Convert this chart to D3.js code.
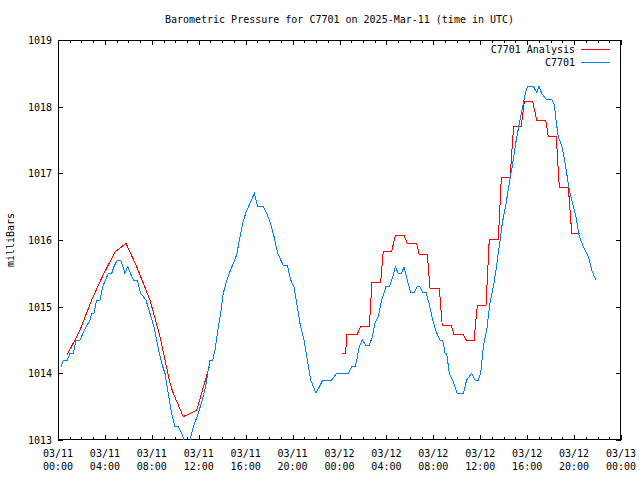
<!DOCTYPE html>
<html><head><meta charset="utf-8">
<script src="https://cdn.jsdelivr.net/npm/d3@7"></script>
<style>
html,body{margin:0;padding:0;background:#fff;}
svg text{font-family:"DejaVu Sans Mono",monospace;font-size:10px;fill:#000;}
</style></head>
<body><svg id="c" width="640" height="480"></svg>
<script>
// ---- data ----
const title = "Barometric Pressure for C7701 on 2025-Mar-11 (time in UTC)";
const yLabel = "milliBars";
const seriesNames = ["C7701 Analysis", "C7701"];
const seriesColors = ["#ff0000", "#0080ff"];
const yTicks = [1013, 1014, 1015, 1016, 1017, 1018, 1019];
const xTickHours = [0, 4, 8, 12, 16, 20, 24, 28, 32, 36, 40, 44, 48];
const xTickDates = ["03/11","03/11","03/11","03/11","03/11","03/11","03/12","03/12","03/12","03/12","03/12","03/12","03/13"];
const xTickTimes = ["00:00","04:00","08:00","12:00","16:00","20:00","00:00","04:00","08:00","12:00","16:00","20:00","00:00"];

// observed series: hours since 03/11 00:00 UTC, pressure (mb)
const obsHours = [0.26,0.45,0.79,1.02,1.30,1.53,1.88,2.39,2.73,2.87,3.07,3.30,3.58,3.81,4.29,4.58,4.77,5.06,5.35,5.71,5.94,6.42,6.76,7.05,7.50,7.84,8.18,8.41,8.64,8.93,9.12,9.40,9.69,9.98,10.26,10.55,10.74,11.0,11.25,11.54,11.96,12.30,12.59,12.76,12.96,13.19,13.39,13.67,13.87,14.09,14.32,14.60,14.95,15.24,15.46,15.75,16.03,16.37,16.74,17.03,17.50,17.79,18.13,18.42,18.73,19.21,19.55,19.84,20.12,20.40,20.63,20.97,21.26,21.54,22.00,22.57,23.34,23.76,24.75,25.04,25.32,25.47,25.69,25.94,26.26,26.54,26.80,27.03,27.31,27.60,27.96,28.25,28.54,28.76,29.01,29.30,29.50,29.78,30.07,30.35,30.63,30.86,31.09,31.38,31.63,31.95,32.23,32.57,32.80,33.00,33.14,33.36,33.65,34.04,34.56,34.84,35.27,35.55,35.83,36.04,36.26,36.55,36.83,37.17,37.34,37.62,37.88,38.20,38.48,38.77,39.02,39.33,39.62,39.87,40.05,40.52,40.81,41.01,41.24,41.61,42.09,42.31,42.46,42.65,42.94,43.14,43.37,43.59,43.88,44.16,44.45,44.79,45.22,45.50,45.84];
const obsValues = [1014.10,1014.2,1014.2,1014.3,1014.3,1014.5,1014.5,1014.7,1014.8,1014.9,1014.9,1015.1,1015.1,1015.3,1015.5,1015.5,1015.6,1015.7,1015.7,1015.5,1015.6,1015.4,1015.4,1015.2,1015.1,1014.9,1014.7,1014.5,1014.3,1014.1,1014.0,1013.7,1013.4,1013.2,1013.2,1013.1,1013.0,1012.9,1013.0,1013.2,1013.4,1013.6,1013.8,1014.0,1014.2,1014.2,1014.35,1014.7,1014.9,1015.2,1015.35,1015.5,1015.65,1015.78,1016.0,1016.25,1016.42,1016.55,1016.7,1016.5,1016.5,1016.4,1016.25,1016.05,1015.8,1015.62,1015.62,1015.4,1015.3,1015.0,1014.75,1014.5,1014.2,1013.9,1013.7,1013.9,1013.9,1014.0,1014.0,1014.1,1014.1,1014.2,1014.4,1014.5,1014.42,1014.42,1014.55,1014.75,1014.85,1015.1,1015.3,1015.3,1015.45,1015.6,1015.5,1015.5,1015.6,1015.4,1015.21,1015.21,1015.3,1015.3,1015.21,1015.21,1015.05,1014.8,1014.63,1014.5,1014.5,1014.3,1014.3,1014.0,1013.9,1013.7,1013.7,1013.9,1014.0,1013.9,1013.9,1014.0,1014.4,1014.65,1015.05,1015.35,1015.55,1015.9,1016.25,1016.55,1016.85,1017.15,1017.45,1017.75,1018.0,1018.22,1018.31,1018.31,1018.21,1018.31,1018.2,1018.11,1018.11,1018.03,1017.8,1017.55,1017.42,1017.25,1017.0,1016.75,1016.55,1016.35,1016.05,1015.9,1015.75,1015.55,1015.4];

// analysis series, two separate runs
const anaHours1 = [0.79,1.88,2.87,3.86,4.86,5.80,6.71,7.84,8.70,9.55,9.83,10.68,11.83,12.90];
const anaValues1 = [1014.28,1014.65,1015.1,1015.48,1015.82,1015.95,1015.6,1015.1,1014.55,1013.85,1013.7,1013.35,1013.45,1014.1];
const anaHours2 = [24.24,24.53,24.61,25.52,25.81,26.54,26.77,27.51,27.73,28.45,28.76,29.50,29.78,30.58,30.80,31.49,31.72,32.51,32.76,33.53,33.76,34.56,34.84,35.47,35.75,36.49,36.77,37.54,37.80,38.54,38.85,39.50,39.76,40.47,40.81,41.58,41.80,42.48,42.74,43.51,43.80,44.51];
const anaValues2 = [1014.3,1014.3,1014.59,1014.59,1014.7,1014.7,1015.37,1015.37,1015.83,1015.83,1016.07,1016.07,1015.95,1015.95,1015.78,1015.78,1015.27,1015.27,1014.72,1014.72,1014.58,1014.58,1014.49,1014.49,1015.02,1015.02,1016.01,1016.01,1016.94,1016.94,1017.71,1017.71,1018.08,1018.08,1017.8,1017.8,1017.55,1017.55,1016.79,1016.79,1016.1,1016.1];

// ---- chart ----
const L = 58, R = 621, T = 40, B = 440;
const svg = d3.select("#c");
const x = d3.scaleLinear().domain([0, 48]).range([L, R]);
const y = d3.scaleLinear().domain([1013, 1019]).range([B, T]);

svg.append("defs").append("clipPath").attr("id","clip")
  .append("rect").attr("x",L).attr("y",T).attr("width",R-L).attr("height",B-T);

// title
svg.append("text").attr("x",(L+R)/2).attr("y",23).attr("text-anchor","middle").text(title);
// y label
svg.append("text").attr("transform","translate(14,"+((T+B)/2)+") rotate(-90)")
  .attr("text-anchor","middle").text(yLabel);

const g = svg.append("g").attr("shape-rendering","crispEdges");
// hourly x ticks (bottom & top, inward)
const hours = d3.range(0, 49);
g.selectAll("line.xb").data(hours).join("line")
  .attr("x1",d=>Math.round(x(d))+0.5).attr("x2",d=>Math.round(x(d))+0.5)
  .attr("y1",B).attr("y2",d=>B-(d%4===0?5:3)).attr("stroke","#000");
g.selectAll("line.xt").data(hours).join("line")
  .attr("x1",d=>Math.round(x(d))+0.5).attr("x2",d=>Math.round(x(d))+0.5)
  .attr("y1",T).attr("y2",d=>T+(d%4===0?5:3)).attr("stroke","#000");
// y ticks left & right
g.selectAll("line.yl").data(yTicks).join("line")
  .attr("x1",L).attr("x2",L+5).attr("y1",d=>Math.round(y(d))+0.5).attr("y2",d=>Math.round(y(d))+0.5).attr("stroke","#000");
g.selectAll("line.yr").data(yTicks).join("line")
  .attr("x1",R-5).attr("x2",R).attr("y1",d=>Math.round(y(d))+0.5).attr("y2",d=>Math.round(y(d))+0.5).attr("stroke","#000");

// tick labels
svg.selectAll("text.yt").data(yTicks).join("text")
  .attr("x",L-6).attr("y",d=>y(d)+4).attr("text-anchor","end").text(d=>d);
svg.selectAll("text.xd").data(xTickHours).join("text")
  .attr("x",d=>x(d)).attr("y",457).attr("text-anchor","middle").text((d,i)=>xTickDates[i]);
svg.selectAll("text.xh").data(xTickHours).join("text")
  .attr("x",d=>x(d)).attr("y",470).attr("text-anchor","middle").text((d,i)=>xTickTimes[i]);

// lines
const line = d3.line().x(d=>x(d[0])).y(d=>y(d[1]));
const plot = svg.append("g").attr("clip-path","url(#clip)").attr("shape-rendering","crispEdges");
const ana1 = anaHours1.map((h,i)=>[h,anaValues1[i]]);
const ana2 = anaHours2.map((h,i)=>[h,anaValues2[i]]);
const obs = obsHours.map((h,i)=>[h,obsValues[i]]);
[ana1, ana2].forEach(s=>plot.append("path").attr("d",line(s)).attr("fill","none")
  .attr("stroke",seriesColors[0]).attr("stroke-width",1));
plot.append("path").attr("d",line(obs)).attr("fill","none")
  .attr("stroke",seriesColors[1]).attr("stroke-width",1);

// frame
g.append("rect").attr("x",L+0.5).attr("y",T+0.5).attr("width",R-L-1).attr("height",B-T-1)
  .attr("fill","none").attr("stroke","#000");

// legend
const legY = [49, 62];
seriesNames.forEach((n,i)=>{
  svg.append("text").attr("x",575).attr("y",legY[i]+4).attr("text-anchor","end").text(n);
  svg.append("line").attr("x1",581).attr("x2",610).attr("y1",legY[i]+0.5).attr("y2",legY[i]+0.5)
    .attr("stroke",seriesColors[i]).attr("shape-rendering","crispEdges");
});
</script></body></html>
